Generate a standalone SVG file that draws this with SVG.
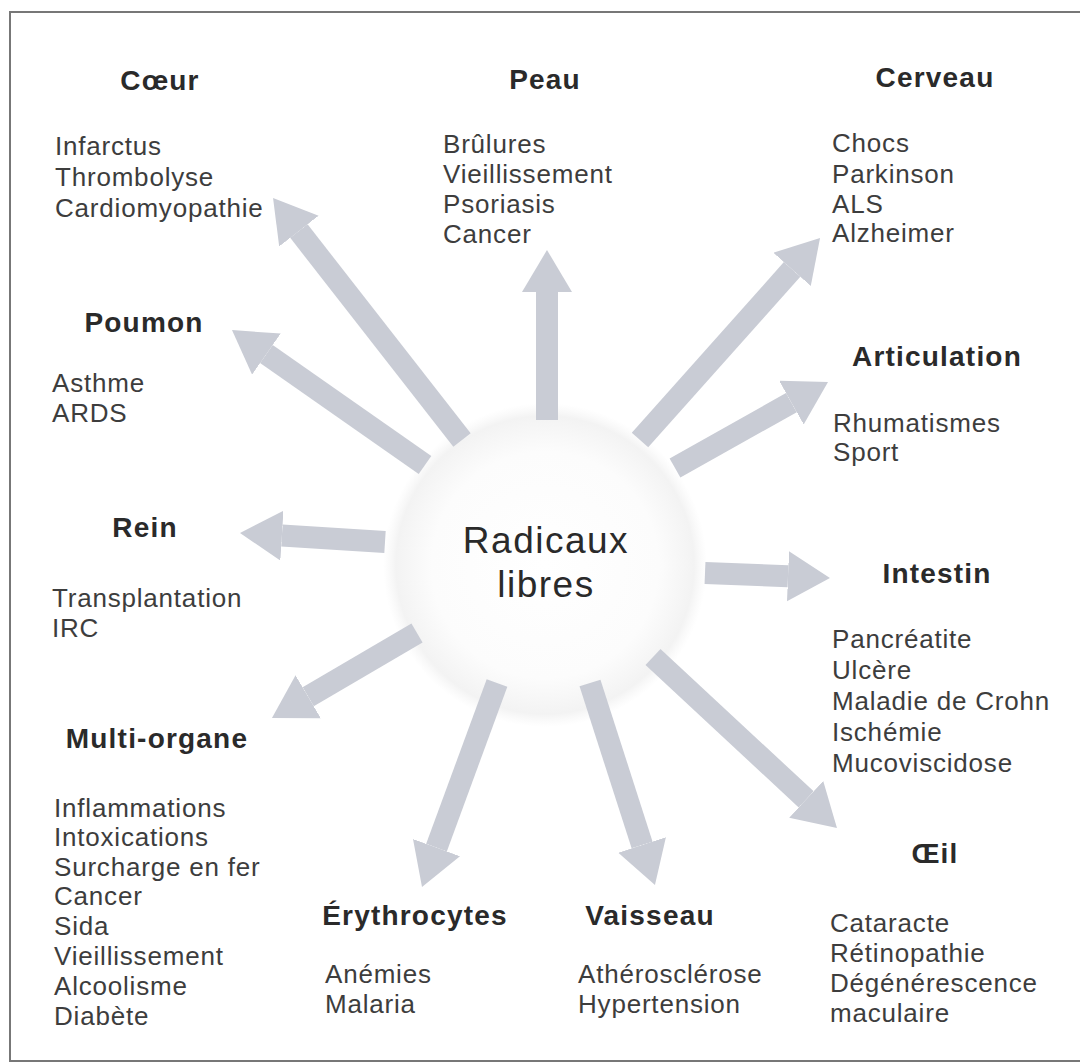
<svg xmlns="http://www.w3.org/2000/svg" width="1080" height="1063" viewBox="0 0 1080 1063">
<style>
.title{font-family:"Liberation Sans",Arial,sans-serif;font-weight:bold;font-size:28px;fill:#2a2a2a;letter-spacing:1.2px;text-anchor:middle}
.item{font-family:"Liberation Sans",Arial,sans-serif;font-size:26px;fill:#3d3d3d;letter-spacing:0.8px}
.center{font-family:"Liberation Sans",Arial,sans-serif;font-size:37px;fill:#2a2a2a;letter-spacing:1.5px;text-anchor:middle}
.arrow{stroke:#c9ccd5;stroke-width:22;fill:none;stroke-linecap:butt;marker-end:url(#head)}
</style>
<defs>
<marker id="head" markerUnits="userSpaceOnUse" markerWidth="44" markerHeight="52" refX="0" refY="25" orient="auto" viewBox="0 0 44 52">
<path d="M0,0 L42,25 L0,50 z" fill="#c9ccd5"/>
</marker>
<radialGradient id="glow" cx="0.5" cy="0.5" r="0.5">
<stop offset="0" stop-color="#ffffff"/>
<stop offset="0.7" stop-color="#fcfcfc"/>
<stop offset="0.92" stop-color="#f3f3f3"/>
<stop offset="1" stop-color="#f6f6f6" stop-opacity="0"/>
</radialGradient>
</defs>
<rect x="0" y="0" width="1080" height="1063" fill="#ffffff"/>
<rect x="10" y="12" width="1085" height="1049" fill="none" stroke="#777" stroke-width="2"/>

<g id="center">
<circle cx="545" cy="565" r="162" fill="url(#glow)"/>
<text class="center" x="546" y="553">Radicaux</text>
<text class="center" x="546" y="597">libres</text>
</g>

<g id="connectors">
<line class="arrow" x1="462" y1="440" x2="298.9" y2="231.1"/>
<line class="arrow" x1="425" y1="465" x2="266.4" y2="354.1"/>
<line class="arrow" x1="385" y1="542" x2="281.9" y2="535.6"/>
<line class="arrow" x1="547" y1="420" x2="547" y2="292"/>
<line class="arrow" x1="640" y1="440" x2="792.1" y2="269.4"/>
<line class="arrow" x1="675" y1="468" x2="791.4" y2="402.6"/>
<line class="arrow" x1="705" y1="573" x2="788" y2="576.3"/>
<line class="arrow" x1="653" y1="657" x2="806.2" y2="799.4"/>
<line class="arrow" x1="590" y1="683" x2="642.1" y2="845"/>
<line class="arrow" x1="497" y1="683" x2="436.5" y2="847.6"/>
<line class="arrow" x1="417" y1="633" x2="308.2" y2="696.8"/>
</g>

<g id="coeur">
<text class="title" x="160" y="90">Cœur</text>
<text class="item" x="55" y="155">Infarctus</text>
<text class="item" x="55" y="186">Thrombolyse</text>
<text class="item" x="55" y="217">Cardiomyopathie</text>
</g>

<g id="peau">
<text class="title" x="545" y="89">Peau</text>
<text class="item" x="443" y="153">Brûlures</text>
<text class="item" x="443" y="183">Vieillissement</text>
<text class="item" x="443" y="213">Psoriasis</text>
<text class="item" x="443" y="243">Cancer</text>
</g>

<g id="cerveau">
<text class="title" x="935" y="87">Cerveau</text>
<text class="item" x="832" y="152">Chocs</text>
<text class="item" x="832" y="183">Parkinson</text>
<text class="item" x="832" y="213">ALS</text>
<text class="item" x="832" y="242">Alzheimer</text>
</g>

<g id="poumon">
<text class="title" x="144" y="332">Poumon</text>
<text class="item" x="52" y="392">Asthme</text>
<text class="item" x="52" y="422">ARDS</text>
</g>

<g id="articulation">
<text class="title" x="937" y="366">Articulation</text>
<text class="item" x="833" y="432">Rhumatismes</text>
<text class="item" x="833" y="461">Sport</text>
</g>

<g id="rein">
<text class="title" x="145" y="537">Rein</text>
<text class="item" x="52" y="607">Transplantation</text>
<text class="item" x="52" y="637">IRC</text>
</g>

<g id="intestin">
<text class="title" x="937" y="583">Intestin</text>
<text class="item" x="832" y="648">Pancréatite</text>
<text class="item" x="832" y="679">Ulcère</text>
<text class="item" x="832" y="710">Maladie de Crohn</text>
<text class="item" x="832" y="741">Ischémie</text>
<text class="item" x="832" y="772">Mucoviscidose</text>
</g>

<g id="multi-organe">
<text class="title" x="157" y="748">Multi-organe</text>
<text class="item" x="54" y="817">Inflammations</text>
<text class="item" x="54" y="846">Intoxications</text>
<text class="item" x="54" y="876">Surcharge en fer</text>
<text class="item" x="54" y="905">Cancer</text>
<text class="item" x="54" y="935">Sida</text>
<text class="item" x="54" y="965">Vieillissement</text>
<text class="item" x="54" y="995">Alcoolisme</text>
<text class="item" x="54" y="1025">Diabète</text>
</g>

<g id="erythrocytes">
<text class="title" x="415" y="925">Érythrocytes</text>
<text class="item" x="325" y="983">Anémies</text>
<text class="item" x="325" y="1013">Malaria</text>
</g>

<g id="vaisseau">
<text class="title" x="650" y="925">Vaisseau</text>
<text class="item" x="578" y="983">Athérosclérose</text>
<text class="item" x="578" y="1013">Hypertension</text>
</g>

<g id="oeil">
<text class="title" x="935" y="863">Œil</text>
<text class="item" x="830" y="932">Cataracte</text>
<text class="item" x="830" y="962">Rétinopathie</text>
<text class="item" x="830" y="992">Dégénérescence</text>
<text class="item" x="830" y="1022">maculaire</text>
</g>
</svg>
